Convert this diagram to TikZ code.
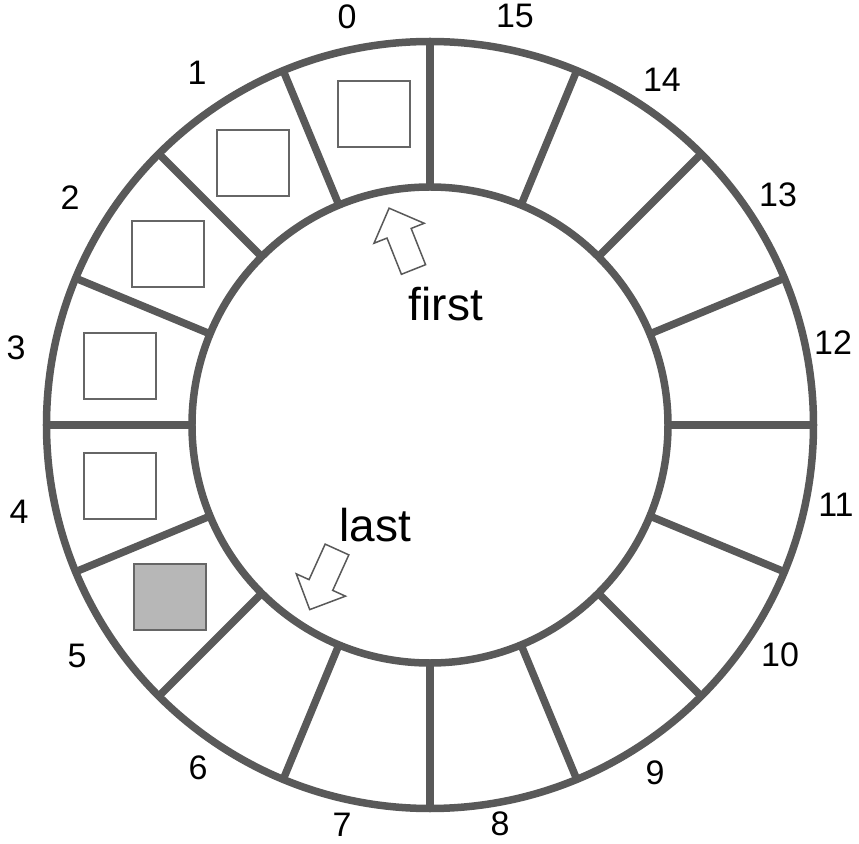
\documentclass[tikz,border=0pt]{standalone}
\usepackage{fontspec}
\setmainfont{Liberation Sans}
\usetikzlibrary{positioning}
\definecolor{ringgray}{RGB}{89,89,89}
\definecolor{slotgray}{RGB}{102,102,102}
\definecolor{slotfill}{RGB}{183,183,183}

\begin{document}
\begin{tikzpicture}[
    x=1pt, y=1pt,
    ring/.style={draw=ringgray, line width=7.5pt},
    slot/.style={draw=slotgray, line width=1.5pt, fill=white, inner sep=0pt, minimum width=72pt, minimum height=66pt},
    used/.style={slot, fill=slotfill},
    index/.style={font=\fontsize{34}{36}\selectfont, inner sep=0pt},
    pointer/.style={font=\fontsize{46}{50}\selectfont, inner sep=0pt, anchor=base},
    hollow/.style={draw=ringgray, line width=1.5pt, fill=white, line join=miter}
]
\useasboundingbox (-430,-418) rectangle (429,425);
% ring of 16 slots
\draw[ring] (0,0) circle (383.5);
\draw[ring] (0,0) circle (238);
\foreach \k in {0,...,15}
  \draw[ring] (22.5*\k:238) -- (22.5*\k:383.5);
% slot numbers
\foreach \i/\x/\y in {0/-83/408, 1/-233/352, 2/-360/227, 3/-414/77, 4/-411/-87,
                      5/-353/-231, 6/-232/-343, 7/-88/-400, 8/70/-399, 9/225/-348,
                      10/350/-230, 11/406/-80, 12/403/82, 13/348/230, 14/232/345, 15/85/409}
  \node[index] (idx\i) at (\x,\y) {\i};
% stored entries
\foreach \i/\x/\y in {0/-56/311, 1/-177/262, 2/-262/171, 3/-310/59, 4/-310/-61}
  \node[slot] (slot\i) at (\x,\y) {};
\node[used] (slot5) at (-260,-172) {};
% head and tail pointers
\node[pointer] (first) at (16,104) {first};
\node[pointer] (last) at (-54.5,-116.7) {last};
\draw[hollow, shift={(-16.5,155.5)}, rotate=111.7]
  (0,-13) -- (39,-13) -- (39,-27) -- (66,0) -- (39,27) -- (39,13) -- (0,13) -- cycle;
\draw[hollow, shift={(-93,-124.5)}, rotate=245.6]
  (0,-13) -- (39,-13) -- (39,-27) -- (66,0) -- (39,27) -- (39,13) -- (0,13) -- cycle;
\end{tikzpicture}
\end{document}
